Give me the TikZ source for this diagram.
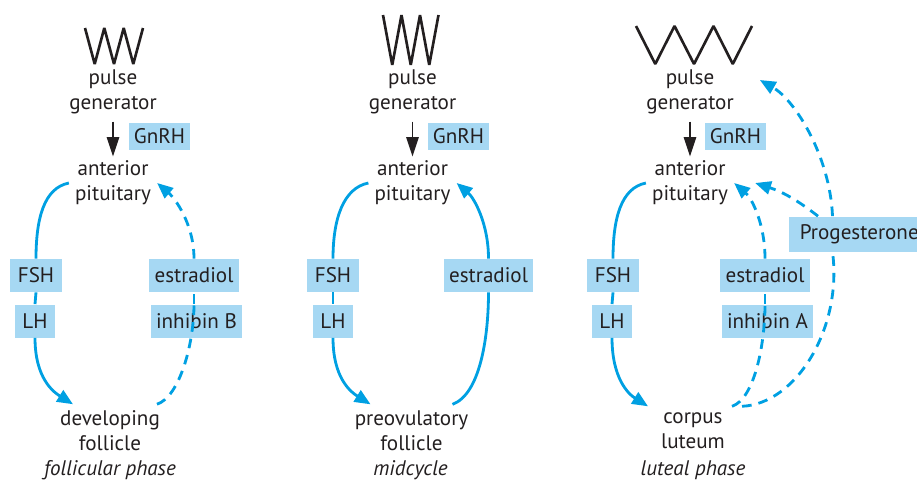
\documentclass[tikz,border=0pt]{standalone}
\usepackage{fontspec}
\setmainfont{PT Sans}
\usetikzlibrary{arrows.meta, positioning, calc}
\definecolor{hblue}{HTML}{00A0E2}
\definecolor{hlight}{HTML}{A6D8F3}
\definecolor{htext}{HTML}{231F20}

\begin{document}
\begin{tikzpicture}[
  txt/.style={align=center, text=htext, font=\fontsize{12}{14.2}\selectfont},
  phase/.style={text=htext, font=\fontsize{12}{14.2}\selectfont\itshape},
  hbox/.style={fill=hlight, text=htext, font=\fontsize{12}{14.2}\selectfont, minimum height=0.66cm, inner xsep=3pt},
  gbox/.style={hbox, minimum width=1.22cm, minimum height=0.5cm},
  pulseline/.style={htext, line width=1.5pt, line join=bevel},
  gnarr/.style={-{Triangle[length=11pt,width=7pt]}, htext, line width=1.1pt, shorten <=1pt, shorten >=-1pt},
  hline/.style={hblue, line width=1.6pt},
  harr/.style={hline, -{Triangle[length=9pt,width=7.5pt]}},
  fbline/.style={hline, dash pattern=on 5.5pt off 4pt},
  fbarr/.style={harr, dash pattern=on 5.5pt off 4pt}
]
\useasboundingbox (0,0) rectangle (18.34,-9.66);

  % follicular phase
  \draw[pulseline] (1.70,-0.56) -- (1.894,-1.28) -- (2.086,-0.56) -- (2.28,-1.28) -- (2.474,-0.56) -- (2.666,-1.28) -- (2.86,-0.56);
  \node[txt] (pg1) at (2.26,-1.83) {pulse\\generator};
  \node[txt] (ap1) at (2.26,-3.66) {anterior\\pituitary};
  \node[gbox] (gn1) at (3.19,-2.73) {GnRH};
  \node[hbox, minimum width=1.04cm] (fsh1) at (0.72,-5.51) {FSH};
  \node[hbox, minimum width=0.80cm] (lh1) at (0.70,-6.42) {LH};
  \node[hbox, minimum width=1.76cm] (estr1) at (3.88,-5.51) {estradiol};
  \node[hbox, minimum width=1.78cm] (inh1) at (3.93,-6.42) {inhibin B};
  \node[txt] (df1) at (2.20,-8.61) {developing\\follicle};
  \node[phase] (ph1) at (2.20,-9.40) {follicular phase};

  \draw[gnarr] (pg1) -- (ap1);
  \draw[hline] (ap1.west) .. controls +(-0.5,-0.1) and +(0,0.8) .. (fsh1.north);
  \draw[hline] (fsh1.south) -- (lh1.north);
  \draw[harr] (lh1.south) .. controls +(0,-0.8) and +(-0.4,0.25) .. ([xshift=-0.74cm]df1.north);
  \draw[fbline] ([xshift=0.94cm]df1.north) .. controls +(0.45,0.15) and +(0,-0.8) .. (inh1.north -| estr1.south);
  \draw[fbline] (inh1.north -| estr1.north) -- (estr1.south);
  \draw[fbarr] (estr1.north) .. controls +(0,0.7) and +(0.35,-0.3) .. (ap1.east);

  % midcycle
  \draw[pulseline] (7.66,-0.30) -- (7.845,-1.30) -- (8.03,-0.30) -- (8.215,-1.30) -- (8.40,-0.30) -- (8.585,-1.30) -- (8.77,-0.30);
  \node[txt] (pg2) at (8.25,-1.83) {pulse\\generator};
  \node[txt] (ap2) at (8.25,-3.66) {anterior\\pituitary};
  \node[gbox] (gn2) at (9.17,-2.73) {GnRH};
  \node[hbox, minimum width=1.04cm] (fsh2) at (6.66,-5.51) {FSH};
  \node[hbox, minimum width=0.80cm] (lh2) at (6.66,-6.42) {LH};
  \node[hbox, minimum width=1.78cm] (estr2) at (9.77,-5.51) {estradiol};
  \node[txt] (pf2) at (8.23,-8.61) {preovulatory\\follicle};
  \node[phase] (ph2) at (8.21,-9.40) {midcycle};

  \draw[gnarr] (pg2) -- (ap2);
  \draw[hline] (ap2.west) .. controls +(-0.5,-0.1) and +(0,0.8) .. (fsh2.north);
  \draw[hline] (fsh2.south) -- (lh2.north);
  \draw[harr] (lh2.south) .. controls +(0,-0.8) and +(-0.4,0.25) .. ([xshift=-0.82cm]pf2.north);
  \draw[hline] ([xshift=0.82cm]pf2.north) .. controls +(0.55,0.2) and +(0,-0.9) .. (estr2.south);
  \draw[harr] (estr2.north) .. controls +(0,0.7) and +(0.35,-0.3) .. (ap2.east);

  % luteal phase
  \draw[pulseline] (12.72,-0.52) -- (13.105,-1.28) -- (13.49,-0.52) -- (13.88,-1.28) -- (14.27,-0.52) -- (14.655,-1.28) -- (15.04,-0.52);
  \node[txt] (pg3) at (13.80,-1.83) {pulse\\generator};
  \node[txt] (ap3) at (13.80,-3.66) {anterior\\pituitary};
  \node[gbox] (gn3) at (14.71,-2.73) {GnRH};
  \node[hbox, minimum width=1.04cm] (fsh3) at (12.26,-5.51) {FSH};
  \node[hbox, minimum width=0.80cm] (lh3) at (12.24,-6.42) {LH};
  \node[hbox, minimum width=1.76cm] (estr3) at (15.30,-5.51) {estradiol};
  \node[hbox, minimum width=1.78cm] (inh3) at (15.35,-6.42) {inhibin A};
  \node[hbox, anchor=west, minimum height=0.7cm, inner xsep=6pt] (prog) at (15.78,-4.68) {Progesterone};
  \node[txt] (cl3) at (13.86,-8.61) {corpus\\luteum};
  \node[phase] (ph3) at (13.86,-9.40) {luteal phase};

  \draw[gnarr] (pg3) -- (ap3);
  \draw[hline] (ap3.west) .. controls +(-0.5,-0.1) and +(0,0.8) .. (fsh3.north);
  \draw[hline] (fsh3.south) -- (lh3.north);
  \draw[harr] (lh3.south) .. controls +(0,-0.8) and +(-0.4,0.25) .. ([xshift=-0.9cm]cl3.north);
  \draw[fbline] ([xshift=0.78cm]cl3.north) .. controls +(0.45,0.15) and +(0,-0.8) .. (inh3.north -| estr3.south);
  \draw[fbline] (inh3.north -| estr3.north) -- (estr3.south);
  \draw[fbarr] (estr3.north) .. controls +(0,0.7) and +(0.35,-0.3) .. (ap3.east);
  \draw[fbline] ([xshift=0.98cm]cl3.north) .. controls +(1.1,0.05) and +(0.2,-1.5) .. ([xshift=0.87cm]prog.south west);
  \draw[fbarr] ([xshift=0.87cm]prog.north west) .. controls +(-0.05,1.2) and +(0.7,-0.4) .. ([shift={(0.4,0.23)}]pg3.east);
  \draw[fbarr] ([xshift=0.58cm]prog.north west) to[bend right=10] ([xshift=0.42cm]ap3.east);

\end{tikzpicture}
\end{document}
